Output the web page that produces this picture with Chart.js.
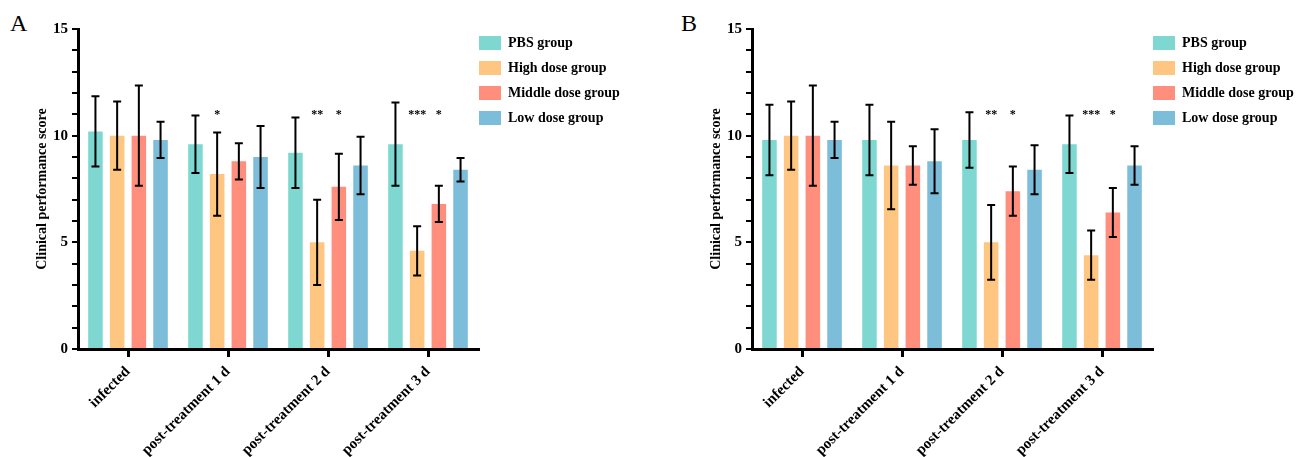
<!DOCTYPE html>
<html>
<head>
<meta charset="utf-8">
<script src="https://cdn.jsdelivr.net/npm/chart.js@4.4.1/dist/chart.umd.min.js"></script>
<style>
    html, body { margin: 0; padding: 0; background: #fff; overflow: hidden; }
    .panel { position: absolute; top: 0; width: 635px; height: 457px; }
    .panel-label { position: absolute; top: 11px; font: 24px/24px "Liberation Serif", serif; color: #000; }
</style>
</head>
<body>
<div class="panel-label" style="left: 10px;">A</div>
<div class="panel-label" style="left: 681px;">B</div>
<div class="panel" style="left: 0px;"><canvas id="chartA"></canvas></div>
<div class="panel" style="left: 674px;"><canvas id="chartB"></canvas></div>

<script>
// Dados
const categories = ['infected', 'post-treatment 1 d', 'post-treatment 2 d', 'post-treatment 3 d'];
const groupNames = ['PBS group', 'High dose group', 'Middle dose group', 'Low dose group'];
const yTicks = [0, 5, 10, 15];

// Painel A
const pbsA = [10.2, 9.6, 9.2, 9.6];
const pbsErrA = [1.65, 1.35, 1.65, 1.95];
const highA = [10.0, 8.2, 5.0, 4.6];
const highErrA = [1.6, 1.95, 2.0, 1.15];
const middleA = [10.0, 8.8, 7.6, 6.8];
const middleErrA = [2.35, 0.85, 1.55, 0.85];
const lowA = [9.8, 9.0, 8.6, 8.4];
const lowErrA = [0.85, 1.45, 1.35, 0.55];
const highStarsA = ['', '*', '**', '***'];
const middleStarsA = ['', '', '*', '*'];

// Painel B
const pbsB = [9.8, 9.8, 9.8, 9.6];
const pbsErrB = [1.65, 1.65, 1.3, 1.35];
const highB = [10.0, 8.6, 5.0, 4.4];
const highErrB = [1.6, 2.05, 1.75, 1.15];
const middleB = [10.0, 8.6, 7.4, 6.4];
const middleErrB = [2.35, 0.9, 1.15, 1.15];
const lowB = [9.8, 8.8, 8.4, 8.6];
const lowErrB = [0.85, 1.5, 1.15, 0.9];
const highStarsB = ['', '', '**', '***'];
const middleStarsB = ['', '', '*', '*'];

const starLevel = 10.85;

const groupColors = ['#7ED8D1', '#FFC682', '#FF8E7D', '#7CBDDA'];
const serif = '"Liberation Serif", "Times New Roman", serif';

// barras de erro + asteriscos
const errorBarsPlugin = {
    id: 'errorBars',
    afterDatasetsDraw(chart) {
        const ctx = chart.ctx;
        const yScale = chart.scales.y;
        ctx.save();
        ctx.strokeStyle = '#000';
        ctx.lineWidth = 2;
        chart.data.datasets.forEach((ds, i) => {
            const meta = chart.getDatasetMeta(i);
            meta.data.forEach((bar, j) => {
                const v = ds.data[j];
                const e = ds.errors[j];
                const yTop = yScale.getPixelForValue(v + e);
                const yBot = yScale.getPixelForValue(v - e);
                const cap = 4;
                ctx.beginPath();
                ctx.moveTo(bar.x, yTop);
                ctx.lineTo(bar.x, yBot);
                ctx.moveTo(bar.x - cap, yTop);
                ctx.lineTo(bar.x + cap, yTop);
                ctx.moveTo(bar.x - cap, yBot);
                ctx.lineTo(bar.x + cap, yBot);
                ctx.stroke();

                const star = ds.stars ? ds.stars[j] : '';
                if (star) {
                    ctx.fillStyle = '#000';
                    ctx.font = 'bold 12px ' + serif;
                    ctx.textAlign = 'center';
                    ctx.textBaseline = 'alphabetic';
                    ctx.fillText(star, bar.x, yScale.getPixelForValue(starLevel));
                }
            });
        });
        ctx.restore();
    }
};

// empurra a legenda para perto do eixo
const legendShiftPlugin = {
    id: 'legendShift',
    afterLayout(chart) {
        chart.legend.left -= 10;
        chart.legend.right -= 10;
        chart.legend.top -= 4;
        chart.legend.bottom -= 4;
    }
};

function makeDataset(i, values, errors, stars) {
    return {
        label: groupNames[i],
        data: values,
        errors: errors,
        stars: stars,
        backgroundColor: groupColors[i],
        borderWidth: 0,
        categoryPercentage: 0.868,
        barPercentage: 0.67
    };
}

function criarGrafico(canvasId, datasets) {
    const canvas = document.getElementById(canvasId);
    if (!canvas) return;

    new Chart(canvas, {
        type: 'bar',
        data: {
            labels: categories,
            datasets: datasets
        },
        options: {
            responsive: true,
            maintainAspectRatio: false,
            animation: false,
            layout: {
                padding: { left: 30, top: 29, right: 0, bottom: 0 }
            },
            plugins: {
                legend: {
                    display: true,
                    position: 'right',
                    align: 'start',
                    maxWidth: 157,
                    labels: {
                        boxWidth: 22,
                        boxHeight: 14,
                        padding: 11,
                        color: '#000',
                        font: { family: serif, size: 14, weight: 'bold' }
                    }
                },
                tooltip: { enabled: false }
            },
            scales: {
                x: {
                    afterFit: function(scale) { scale.height = 108; },
                    grid: {
                        display: true,
                        drawOnChartArea: false,
                        offset: false,
                        tickLength: 8,
                        color: '#000',
                        lineWidth: 3
                    },
                    border: { display: true, color: '#000', width: 3 },
                    ticks: {
                        color: '#000',
                        minRotation: 45,
                        maxRotation: 45,
                        autoSkip: false,
                        padding: 6,
                        font: { family: serif, size: 15, weight: 'bold' }
                    }
                },
                y: {
                    min: 0,
                    max: 15,
                    afterFit: function(scale) { scale.width = 48; },
                    grid: {
                        display: true,
                        drawOnChartArea: false,
                        tickLength: 6,
                        color: '#000',
                        lineWidth: 2
                    },
                    border: { display: true, color: '#000', width: 3 },
                    ticks: {
                        stepSize: 1,
                        autoSkip: false,
                        color: '#000',
                        padding: 4,
                        font: { family: serif, size: 15, weight: 'bold' },
                        callback: function(value) {
                            return yTicks.includes(value) ? String(value) : '';
                        }
                    },
                    title: {
                        display: true,
                        text: 'Clinical performance score',
                        color: '#000',
                        font: { family: serif, size: 14, weight: 'bold' }
                    }
                }
            }
        },
        plugins: [errorBarsPlugin, legendShiftPlugin]
    });
}

criarGrafico('chartA', [
    makeDataset(0, pbsA, pbsErrA, null),
    makeDataset(1, highA, highErrA, highStarsA),
    makeDataset(2, middleA, middleErrA, middleStarsA),
    makeDataset(3, lowA, lowErrA, null)
]);

criarGrafico('chartB', [
    makeDataset(0, pbsB, pbsErrB, null),
    makeDataset(1, highB, highErrB, highStarsB),
    makeDataset(2, middleB, middleErrB, middleStarsB),
    makeDataset(3, lowB, lowErrB, null)
]);
</script>
</body>
</html>
